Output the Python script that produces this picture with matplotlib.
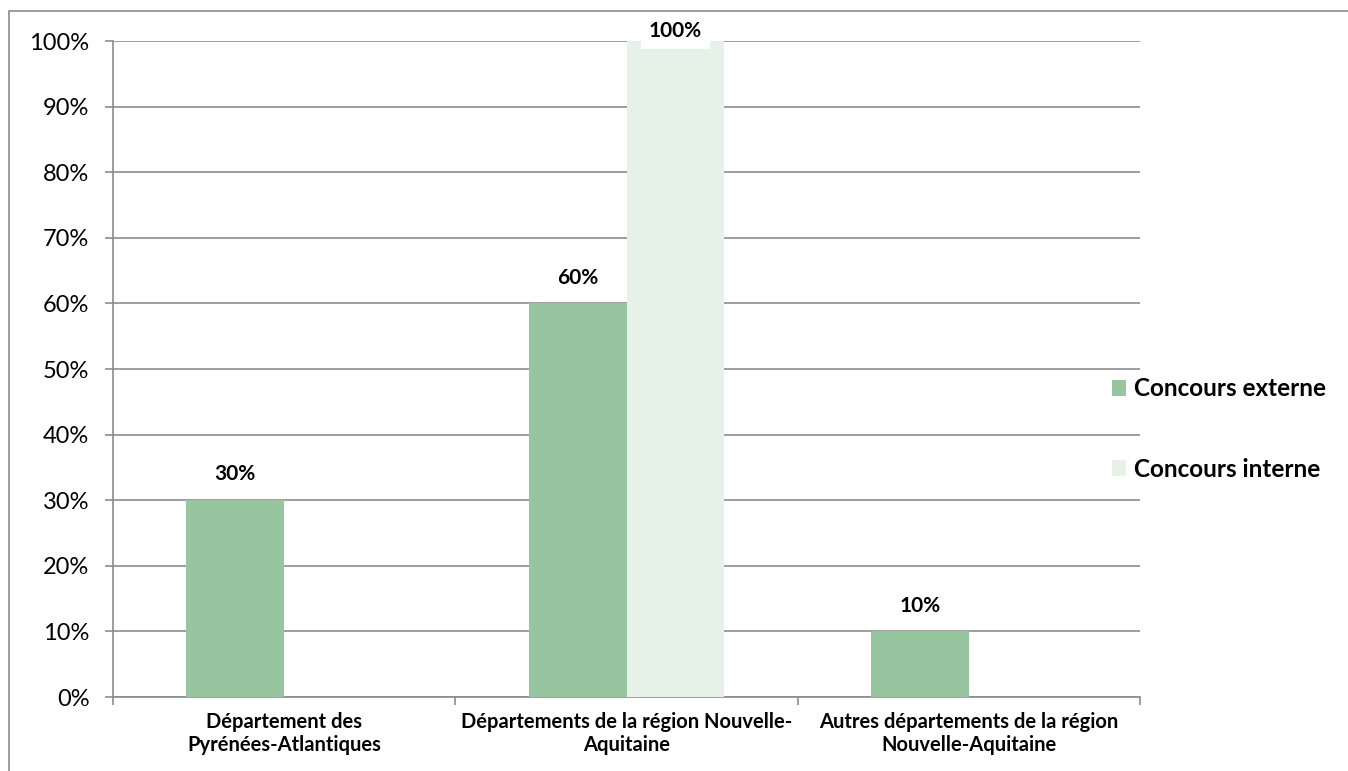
import numpy as np
import matplotlib.pyplot as plt
from matplotlib.patches import Rectangle

plt.rcParams['font.family'] = ['Lato', 'DejaVu Sans']

categories = ["Département des\nPyrénées-Atlantiques",
              "Départements de la région Nouvelle-\nAquitaine",
              "Autres départements de la région\nNouvelle-Aquitaine"]
series = ["Concours externe", "Concours interne"]
externe = [30, 60, 10]
interne = [0, 100, 0]
colors = ["#97C5A0", "#E6F1E8"]

fig = plt.figure(figsize=(13.48, 7.71), dpi=100)
ax = fig.add_axes([113 / 1348, 1 - 697 / 771, (1140 - 113) / 1348, (697 - 41) / 771])

# outer chart border (right and bottom edges fall outside the picture)
fig.patches.append(Rectangle((9 / 1348, -0.5), 2, 1.5 - 11 / 771, transform=fig.transFigure,
                             fill=False, edgecolor="#8c8c8c", linewidth=1.2))

x = np.arange(len(categories))
w = 0.286
b1 = ax.bar(x - w / 2, externe, w, color=colors[0], label=series[0], zorder=3)
b2 = ax.bar(x + w / 2, interne, w, color=colors[1], label=series[1], zorder=3)

for bars, vals in [(b1, externe), (b2, interne)]:
    for r, v in zip(bars, vals):
        if v == 0:
            continue
        if v == 100:
            ax.text(r.get_x() + r.get_width() / 2, v + 1.6, f"{v}%", ha="center", va="center",
                    fontsize=15, fontweight="bold", zorder=5,
                    bbox=dict(facecolor="white", edgecolor="none", pad=6))
        else:
            ax.text(r.get_x() + r.get_width() / 2, v + 2.4, f"{v}%", ha="center", va="bottom",
                    fontsize=15, fontweight="bold", zorder=5)

ax.set_xlim(-0.5, 2.5)
ax.set_ylim(0, 100)
ax.set_yticks(np.arange(0, 101, 10))
ax.set_yticklabels([f"{t}%" for t in range(0, 101, 10)], fontsize=17)
ax.yaxis.grid(True, color="#8c8c8c", linewidth=1.2, zorder=0)
ax.set_axisbelow(True)

ax.set_xticks(x)
ax.set_xticklabels(categories, fontsize=14.5, fontweight="bold")
ax.tick_params(axis="x", which="major", length=0, pad=11)
ax.set_xticks([-0.5, 0.5, 1.5, 2.5], minor=True)
ax.tick_params(axis="x", which="minor", length=6, color="#8c8c8c", width=1.2)
ax.tick_params(axis="y", length=6, color="#8c8c8c", width=1.2, pad=11)

for s in ["top", "right"]:
    ax.spines[s].set_visible(False)
for s in ["left", "bottom"]:
    ax.spines[s].set_color("#8c8c8c")
    ax.spines[s].set_linewidth(1.2)

fig.legend(loc="center left", bbox_to_anchor=(1090 / 1348, 1 - 429 / 771), frameon=False,
           prop={"size": 17.5, "weight": "bold"}, handlelength=0.6, handleheight=0.6,
           handletextpad=0.3, labelspacing=2.35)

fig.savefig("out.png", dpi=100)
